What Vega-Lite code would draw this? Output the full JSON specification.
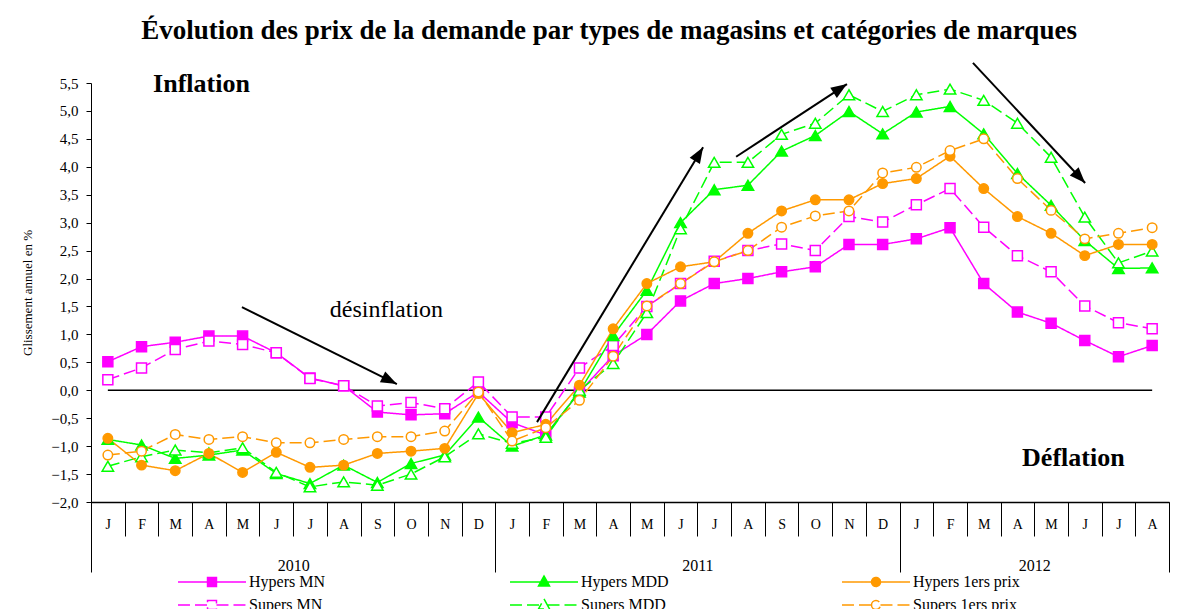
{
  "$schema": "https://vega.github.io/schema/vega-lite/v6.json",
  "width": 1078,
  "height": 419,
  "autosize": "none",
  "padding": {"left": 91, "top": 83, "right": 29, "bottom": 107},
  "background": "white",
  "title": {
    "text": "Évolution des prix de la demande par types de magasins et catégories de marques",
    "anchor": "middle", "frame": "group", "offset": 2, "dx": -21, "dy": 6, "baseline": "alphabetic",
    "font": "Liberation Serif", "fontSize": 27, "fontWeight": "bold", "color": "black"
  },
  "config": {
    "view": {"stroke": null},
    "axis": {"grid": false, "domainColor": "black", "tickColor": "black", "labelColor": "black", "labelFont": "Liberation Serif", "titleFont": "Liberation Serif", "titleColor": "black"}
  },
  "datasets": {
    "zero": [{"i": 0, "i2": 31, "v": 0}],
    "fleches": [
      {"x1": 3.98, "y1": 1.49, "x2": 8.58, "y2": 0.11},
      {"x1": 12.74, "y1": -0.57, "x2": 17.67, "y2": 4.35},
      {"x1": 18.65, "y1": 4.18, "x2": 21.94, "y2": 5.48},
      {"x1": 25.68, "y1": 5.86, "x2": 29.01, "y2": 3.71}
    ],
    "textes": [
      {"i": 2.78, "v": 5.49, "texte": "Inflation", "gras": "oui"},
      {"i": 28.66, "v": -1.21, "texte": "Déflation", "gras": "oui"},
      {"i": 8.27, "v": 1.43, "texte": "désinflation", "gras": "non"}
    ],
    "prix": [
      {"i":0,"serie":"Hypers MN","v":0.51},{"i":1,"serie":"Hypers MN","v":0.78},{"i":2,"serie":"Hypers MN","v":0.86},{"i":3,"serie":"Hypers MN","v":0.97},{"i":4,"serie":"Hypers MN","v":0.97},{"i":5,"serie":"Hypers MN","v":0.67},{"i":6,"serie":"Hypers MN","v":0.22},{"i":7,"serie":"Hypers MN","v":0.08},{"i":8,"serie":"Hypers MN","v":-0.39},{"i":9,"serie":"Hypers MN","v":-0.44},{"i":10,"serie":"Hypers MN","v":-0.42},{"i":11,"serie":"Hypers MN","v":-0.03},{"i":12,"serie":"Hypers MN","v":-0.58},{"i":13,"serie":"Hypers MN","v":-0.80},{"i":14,"serie":"Hypers MN","v":-0.03},{"i":15,"serie":"Hypers MN","v":0.62},{"i":16,"serie":"Hypers MN","v":1.00},{"i":17,"serie":"Hypers MN","v":1.60},{"i":18,"serie":"Hypers MN","v":1.91},{"i":19,"serie":"Hypers MN","v":2.00},{"i":20,"serie":"Hypers MN","v":2.12},{"i":21,"serie":"Hypers MN","v":2.21},{"i":22,"serie":"Hypers MN","v":2.61},{"i":23,"serie":"Hypers MN","v":2.61},{"i":24,"serie":"Hypers MN","v":2.71},{"i":25,"serie":"Hypers MN","v":2.91},{"i":26,"serie":"Hypers MN","v":1.91},{"i":27,"serie":"Hypers MN","v":1.40},{"i":28,"serie":"Hypers MN","v":1.20},{"i":29,"serie":"Hypers MN","v":0.89},{"i":30,"serie":"Hypers MN","v":0.60},{"i":31,"serie":"Hypers MN","v":0.80},
      {"i":0,"serie":"Supers MN","v":0.19},{"i":1,"serie":"Supers MN","v":0.40},{"i":2,"serie":"Supers MN","v":0.73},{"i":3,"serie":"Supers MN","v":0.88},{"i":4,"serie":"Supers MN","v":0.82},{"i":5,"serie":"Supers MN","v":0.67},{"i":6,"serie":"Supers MN","v":0.21},{"i":7,"serie":"Supers MN","v":0.08},{"i":8,"serie":"Supers MN","v":-0.28},{"i":9,"serie":"Supers MN","v":-0.22},{"i":10,"serie":"Supers MN","v":-0.33},{"i":11,"serie":"Supers MN","v":0.15},{"i":12,"serie":"Supers MN","v":-0.48},{"i":13,"serie":"Supers MN","v":-0.48},{"i":14,"serie":"Supers MN","v":0.40},{"i":15,"serie":"Supers MN","v":0.80},{"i":16,"serie":"Supers MN","v":1.50},{"i":17,"serie":"Supers MN","v":1.91},{"i":18,"serie":"Supers MN","v":2.31},{"i":19,"serie":"Supers MN","v":2.50},{"i":20,"serie":"Supers MN","v":2.62},{"i":21,"serie":"Supers MN","v":2.50},{"i":22,"serie":"Supers MN","v":3.11},{"i":23,"serie":"Supers MN","v":3.01},{"i":24,"serie":"Supers MN","v":3.32},{"i":25,"serie":"Supers MN","v":3.61},{"i":26,"serie":"Supers MN","v":2.92},{"i":27,"serie":"Supers MN","v":2.41},{"i":28,"serie":"Supers MN","v":2.12},{"i":29,"serie":"Supers MN","v":1.51},{"i":30,"serie":"Supers MN","v":1.21},{"i":31,"serie":"Supers MN","v":1.10},
      {"i":0,"serie":"Hypers MDD","v":-0.88},{"i":1,"serie":"Hypers MDD","v":-0.98},{"i":2,"serie":"Hypers MDD","v":-1.22},{"i":3,"serie":"Hypers MDD","v":-1.16},{"i":4,"serie":"Hypers MDD","v":-1.07},{"i":5,"serie":"Hypers MDD","v":-1.49},{"i":6,"serie":"Hypers MDD","v":-1.67},{"i":7,"serie":"Hypers MDD","v":-1.34},{"i":8,"serie":"Hypers MDD","v":-1.65},{"i":9,"serie":"Hypers MDD","v":-1.31},{"i":10,"serie":"Hypers MDD","v":-1.16},{"i":11,"serie":"Hypers MDD","v":-0.48},{"i":12,"serie":"Hypers MDD","v":-1.00},{"i":13,"serie":"Hypers MDD","v":-0.80},{"i":14,"serie":"Hypers MDD","v":-0.03},{"i":15,"serie":"Hypers MDD","v":0.98},{"i":16,"serie":"Hypers MDD","v":1.79},{"i":17,"serie":"Hypers MDD","v":3.00},{"i":18,"serie":"Hypers MDD","v":3.59},{"i":19,"serie":"Hypers MDD","v":3.67},{"i":20,"serie":"Hypers MDD","v":4.28},{"i":21,"serie":"Hypers MDD","v":4.56},{"i":22,"serie":"Hypers MDD","v":4.99},{"i":23,"serie":"Hypers MDD","v":4.59},{"i":24,"serie":"Hypers MDD","v":4.98},{"i":25,"serie":"Hypers MDD","v":5.08},{"i":26,"serie":"Hypers MDD","v":4.59},{"i":27,"serie":"Hypers MDD","v":3.88},{"i":28,"serie":"Hypers MDD","v":3.31},{"i":29,"serie":"Hypers MDD","v":2.68},{"i":30,"serie":"Hypers MDD","v":2.18},{"i":31,"serie":"Hypers MDD","v":2.19},
      {"i":0,"serie":"Supers MDD","v":-1.36},{"i":1,"serie":"Supers MDD","v":-1.19},{"i":2,"serie":"Supers MDD","v":-1.07},{"i":3,"serie":"Supers MDD","v":-1.12},{"i":4,"serie":"Supers MDD","v":-1.03},{"i":5,"serie":"Supers MDD","v":-1.47},{"i":6,"serie":"Supers MDD","v":-1.73},{"i":7,"serie":"Supers MDD","v":-1.64},{"i":8,"serie":"Supers MDD","v":-1.70},{"i":9,"serie":"Supers MDD","v":-1.50},{"i":10,"serie":"Supers MDD","v":-1.19},{"i":11,"serie":"Supers MDD","v":-0.78},{"i":12,"serie":"Supers MDD","v":-0.95},{"i":13,"serie":"Supers MDD","v":-0.84},{"i":14,"serie":"Supers MDD","v":0.00},{"i":15,"serie":"Supers MDD","v":0.48},{"i":16,"serie":"Supers MDD","v":1.39},{"i":17,"serie":"Supers MDD","v":2.89},{"i":18,"serie":"Supers MDD","v":4.08},{"i":19,"serie":"Supers MDD","v":4.08},{"i":20,"serie":"Supers MDD","v":4.58},{"i":21,"serie":"Supers MDD","v":4.78},{"i":22,"serie":"Supers MDD","v":5.29},{"i":23,"serie":"Supers MDD","v":4.99},{"i":24,"serie":"Supers MDD","v":5.29},{"i":25,"serie":"Supers MDD","v":5.39},{"i":26,"serie":"Supers MDD","v":5.19},{"i":27,"serie":"Supers MDD","v":4.78},{"i":28,"serie":"Supers MDD","v":4.17},{"i":29,"serie":"Supers MDD","v":3.10},{"i":30,"serie":"Supers MDD","v":2.28},{"i":31,"serie":"Supers MDD","v":2.49},
      {"i":0,"serie":"Hypers 1ers prix","v":-0.86},{"i":1,"serie":"Hypers 1ers prix","v":-1.34},{"i":2,"serie":"Hypers 1ers prix","v":-1.44},{"i":3,"serie":"Hypers 1ers prix","v":-1.13},{"i":4,"serie":"Hypers 1ers prix","v":-1.47},{"i":5,"serie":"Hypers 1ers prix","v":-1.11},{"i":6,"serie":"Hypers 1ers prix","v":-1.38},{"i":7,"serie":"Hypers 1ers prix","v":-1.34},{"i":8,"serie":"Hypers 1ers prix","v":-1.13},{"i":9,"serie":"Hypers 1ers prix","v":-1.09},{"i":10,"serie":"Hypers 1ers prix","v":-1.04},{"i":11,"serie":"Hypers 1ers prix","v":-0.06},{"i":12,"serie":"Hypers 1ers prix","v":-0.76},{"i":13,"serie":"Hypers 1ers prix","v":-0.61},{"i":14,"serie":"Hypers 1ers prix","v":0.09},{"i":15,"serie":"Hypers 1ers prix","v":1.10},{"i":16,"serie":"Hypers 1ers prix","v":1.91},{"i":17,"serie":"Hypers 1ers prix","v":2.21},{"i":18,"serie":"Hypers 1ers prix","v":2.30},{"i":19,"serie":"Hypers 1ers prix","v":2.81},{"i":20,"serie":"Hypers 1ers prix","v":3.21},{"i":21,"serie":"Hypers 1ers prix","v":3.41},{"i":22,"serie":"Hypers 1ers prix","v":3.41},{"i":23,"serie":"Hypers 1ers prix","v":3.70},{"i":24,"serie":"Hypers 1ers prix","v":3.79},{"i":25,"serie":"Hypers 1ers prix","v":4.19},{"i":26,"serie":"Hypers 1ers prix","v":3.61},{"i":27,"serie":"Hypers 1ers prix","v":3.11},{"i":28,"serie":"Hypers 1ers prix","v":2.81},{"i":29,"serie":"Hypers 1ers prix","v":2.41},{"i":30,"serie":"Hypers 1ers prix","v":2.61},{"i":31,"serie":"Hypers 1ers prix","v":2.61},
      {"i":0,"serie":"Supers 1ers prix","v":-1.16},{"i":1,"serie":"Supers 1ers prix","v":-1.09},{"i":2,"serie":"Supers 1ers prix","v":-0.79},{"i":3,"serie":"Supers 1ers prix","v":-0.88},{"i":4,"serie":"Supers 1ers prix","v":-0.83},{"i":5,"serie":"Supers 1ers prix","v":-0.94},{"i":6,"serie":"Supers 1ers prix","v":-0.94},{"i":7,"serie":"Supers 1ers prix","v":-0.88},{"i":8,"serie":"Supers 1ers prix","v":-0.83},{"i":9,"serie":"Supers 1ers prix","v":-0.83},{"i":10,"serie":"Supers 1ers prix","v":-0.73},{"i":11,"serie":"Supers 1ers prix","v":-0.03},{"i":12,"serie":"Supers 1ers prix","v":-0.91},{"i":13,"serie":"Supers 1ers prix","v":-0.67},{"i":14,"serie":"Supers 1ers prix","v":-0.18},{"i":15,"serie":"Supers 1ers prix","v":0.61},{"i":16,"serie":"Supers 1ers prix","v":1.51},{"i":17,"serie":"Supers 1ers prix","v":1.91},{"i":18,"serie":"Supers 1ers prix","v":2.30},{"i":19,"serie":"Supers 1ers prix","v":2.50},{"i":20,"serie":"Supers 1ers prix","v":2.92},{"i":21,"serie":"Supers 1ers prix","v":3.12},{"i":22,"serie":"Supers 1ers prix","v":3.21},{"i":23,"serie":"Supers 1ers prix","v":3.89},{"i":24,"serie":"Supers 1ers prix","v":3.99},{"i":25,"serie":"Supers 1ers prix","v":4.29},{"i":26,"serie":"Supers 1ers prix","v":4.50},{"i":27,"serie":"Supers 1ers prix","v":3.79},{"i":28,"serie":"Supers 1ers prix","v":3.22},{"i":29,"serie":"Supers 1ers prix","v":2.71},{"i":30,"serie":"Supers 1ers prix","v":2.81},{"i":31,"serie":"Supers 1ers prix","v":2.91}
    ]
  },
  "resolve": {"axis": {"x": "independent", "y": "independent"}},
  "layer": [
    {
      "data": {"name": "zero"},
      "mark": {"type": "rule", "color": "black", "strokeWidth": 1.5},
      "encoding": {
        "x": {"field": "i", "type": "quantitative",
          "scale": {"domain": [-0.5, 31.5], "nice": false, "zero": false},
          "axis": {"orient": "bottom", "title": null,
            "values": [-0.5,0.5,1.5,2.5,3.5,4.5,5.5,6.5,7.5,8.5,9.5,10.5,11.5,12.5,13.5,14.5,15.5,16.5,17.5,18.5,19.5,20.5,21.5,22.5,23.5,24.5,25.5,26.5,27.5,28.5,29.5,30.5,31.5],
            "labelExpr": "datum.value < 31 ? ['J','F','M','A','M','J','J','A','S','O','N','D'][(datum.value + 0.5) % 12] : ''",
            "labelOffset": 16.84, "tickSize": 34, "labelPadding": -12, "labelBaseline": "middle",
            "labelFontSize": 14, "labelFlush": false, "labelOverlap": false, "labelBound": false, "domainWidth": 1.5}},
        "x2": {"field": "i2"},
        "y": {"field": "v", "type": "quantitative",
          "scale": {"domain": [-2, 5.5], "nice": false, "zero": false},
          "axis": {"orient": "left", "title": "Glissement annuel en %", "titleFontSize": 13, "titleFontWeight": "normal", "titleX": -64, "titleBaseline": "middle",
            "values": [-2,-1.5,-1,-0.5,0,0.5,1,1.5,2,2.5,3,3.5,4,4.5,5,5.5],
            "labelExpr": "replace(format(datum.value, '.1f'), '.', ',')",
            "labelFontSize": 15, "tickSize": 5, "labelPadding": 8, "labelOverlap": false, "labelFlush": false}}
      }
    },
    {
      "data": {"name": "prix"},
      "mark": {"type": "line", "strokeWidth": 1.5},
      "encoding": {
        "x": {"field": "i", "type": "quantitative",
          "axis": {"orient": "bottom", "title": null, "values": [-0.5, 11.5, 23.5, 31.5], "tickSize": 70, "labels": false, "domain": false}},
        "y": {"field": "v", "type": "quantitative", "axis": null},
        "stroke": {"field": "serie", "type": "nominal",
          "scale": {"domain": ["Hypers MN","Hypers MDD","Hypers 1ers prix","Supers MN","Supers MDD","Supers 1ers prix"],
                    "range": ["#FF00FF","#00FF00","#FF9900","#FF00FF","#00FF00","#FF9900"]},
          "legend": {"title": null, "orient": "none", "legendX": 113, "legendY": 491, "direction": "horizontal", "columns": 3, "gridAlign": "all", "columnPadding": 150, "rowPadding": 5,
            "symbolSize": 196, "symbolStrokeWidth": 1.5, "labelFont": "Liberation Serif", "labelFontSize": 16, "labelColor": "black", "labelOffset": 29, "labelLimit": 300, "padding": 0,
            "encode": {"symbols": {"update": {
              "shape": {"signal": "indexof(datum.value, 'MN') >= 0 ? 'M-4.86,0H-0.64M0.64,0H4.86M-0.64,-0.64H0.64V0.64H-0.64Z' : (indexof(datum.value, 'MDD') >= 0 ? 'M-4.86,0H-0.5M0.5,0H4.86M0,-0.86L0.79,0.57L-0.79,0.57Z' : 'M-4.86,0H-0.64M0.64,0H4.86M-0.64,0A0.64,0.64,0,1,0,0.64,0A0.64,0.64,0,1,0,-0.64,0Z')"},
              "fill": {"scale": "fill", "field": "value"},
              "strokeWidth": {"value": 1.5},
              "opacity": {"value": 1}
            }}}}},
        "strokeDash": {"field": "serie", "type": "nominal",
          "scale": {"domain": ["Hypers MN","Hypers MDD","Hypers 1ers prix","Supers MN","Supers MDD","Supers 1ers prix"],
                    "range": [[1,0],[1,0],[1,0],[12,5],[12,5],[12,5]]},
          "legend": {"title": null, "orient": "none", "legendX": 113, "legendY": 491, "direction": "horizontal", "columns": 3, "gridAlign": "all", "columnPadding": 150, "rowPadding": 5,
            "symbolSize": 196, "symbolStrokeWidth": 1.5, "labelFont": "Liberation Serif", "labelFontSize": 16, "labelColor": "black", "labelOffset": 29, "labelLimit": 300, "padding": 0,
            "encode": {"symbols": {"update": {
              "shape": {"signal": "indexof(datum.value, 'MN') >= 0 ? 'M-4.86,0H-0.64M0.64,0H4.86M-0.64,-0.64H0.64V0.64H-0.64Z' : (indexof(datum.value, 'MDD') >= 0 ? 'M-4.86,0H-0.5M0.5,0H4.86M0,-0.86L0.79,0.57L-0.79,0.57Z' : 'M-4.86,0H-0.64M0.64,0H4.86M-0.64,0A0.64,0.64,0,1,0,0.64,0A0.64,0.64,0,1,0,-0.64,0Z')"},
              "fill": {"scale": "fill", "field": "value"},
              "strokeWidth": {"value": 1.5},
              "opacity": {"value": 1}
            }}}}},
        "detail": {"field": "serie"}
      }
    },
    {
      "data": {"name": "prix"},
      "transform": [{"filter": {"field": "serie", "oneOf": ["Hypers MN", "Supers MN"]}}],
      "mark": {"type": "point", "shape": "square", "size": 100, "strokeWidth": 1.5, "opacity": 1, "filled": false},
      "encoding": {
        "x": {"field": "i", "type": "quantitative",
          "axis": {"orient": "bottom", "title": null, "values": [5.5, 17.5, 27.5],
            "labelExpr": "datum.value < 12 ? '2010' : (datum.value < 24 ? '2011' : '2012')",
            "ticks": false, "domain": false, "labelPadding": 63, "labelBaseline": "middle", "labelFontSize": 16, "labelFlush": false, "labelOverlap": false}},
        "y": {"field": "v", "type": "quantitative", "axis": null},
        "color": {"field": "serie", "type": "nominal", "legend": null,
          "scale": {"domain": ["Hypers MN","Hypers MDD","Hypers 1ers prix","Supers MN","Supers MDD","Supers 1ers prix"],
                    "range": ["#FF00FF","#00FF00","#FF9900","#FF00FF","#00FF00","#FF9900"]}},
        "fill": {"field": "serie", "type": "nominal", "legend": null,
          "scale": {"domain": ["Hypers MN","Hypers MDD","Hypers 1ers prix","Supers MN","Supers MDD","Supers 1ers prix"],
                    "range": ["#FF00FF","#00FF00","#FF9900","white","white","white"]}}
      }
    },
    {
      "data": {"name": "prix"},
      "transform": [{"filter": {"field": "serie", "oneOf": ["Hypers MDD", "Supers MDD"]}}],
      "mark": {"type": "point", "shape": "triangle-up", "size": 130, "strokeWidth": 1.5, "opacity": 1, "filled": false},
      "encoding": {
        "x": {"field": "i", "type": "quantitative", "axis": null},
        "y": {"field": "v", "type": "quantitative", "axis": null},
        "color": {"field": "serie", "type": "nominal", "legend": null},
        "fill": {"field": "serie", "type": "nominal", "legend": null}
      }
    },
    {
      "data": {"name": "prix"},
      "transform": [{"filter": {"field": "serie", "oneOf": ["Hypers 1ers prix", "Supers 1ers prix"]}}],
      "mark": {"type": "point", "shape": "circle", "size": 90, "strokeWidth": 1.5, "opacity": 1, "filled": false},
      "encoding": {
        "x": {"field": "i", "type": "quantitative", "axis": null},
        "y": {"field": "v", "type": "quantitative", "axis": null},
        "color": {"field": "serie", "type": "nominal", "legend": null},
        "fill": {"field": "serie", "type": "nominal", "legend": null}
      }
    },
    {
      "data": {"name": "fleches"},
      "mark": {"type": "rule", "color": "black", "strokeWidth": 2},
      "encoding": {
        "x": {"field": "x1", "type": "quantitative", "axis": null},
        "x2": {"field": "x2"},
        "y": {"field": "y1", "type": "quantitative", "axis": null},
        "y2": {"field": "y2"}
      }
    },
    {
      "data": {"name": "fleches"},
      "transform": [{"calculate": "atan2(-(datum.y2 - datum.y1) * 55.87, (datum.x2 - datum.x1) * 33.69) * 180 / PI", "as": "angle"}],
      "mark": {"type": "point", "shape": "M0,0L-2,-0.75L-2,0.75Z", "size": 256, "filled": true, "color": "black", "opacity": 1},
      "encoding": {
        "x": {"field": "x2", "type": "quantitative", "axis": null},
        "y": {"field": "y2", "type": "quantitative", "axis": null},
        "angle": {"field": "angle", "type": "quantitative", "scale": null}
      }
    },
    {
      "data": {"name": "textes"},
      "transform": [{"filter": "datum.gras == 'oui'"}],
      "mark": {"type": "text", "font": "Liberation Serif", "fontSize": 26, "fontWeight": "bold", "color": "black", "align": "center", "baseline": "middle"},
      "encoding": {
        "x": {"field": "i", "type": "quantitative", "axis": null},
        "y": {"field": "v", "type": "quantitative", "axis": null},
        "text": {"field": "texte"}
      }
    },
    {
      "data": {"name": "textes"},
      "transform": [{"filter": "datum.gras == 'non'"}],
      "mark": {"type": "text", "font": "Liberation Serif", "fontSize": 24, "color": "black", "align": "center", "baseline": "middle"},
      "encoding": {
        "x": {"field": "i", "type": "quantitative", "axis": null},
        "y": {"field": "v", "type": "quantitative", "axis": null},
        "text": {"field": "texte"}
      }
    }
  ]
}
